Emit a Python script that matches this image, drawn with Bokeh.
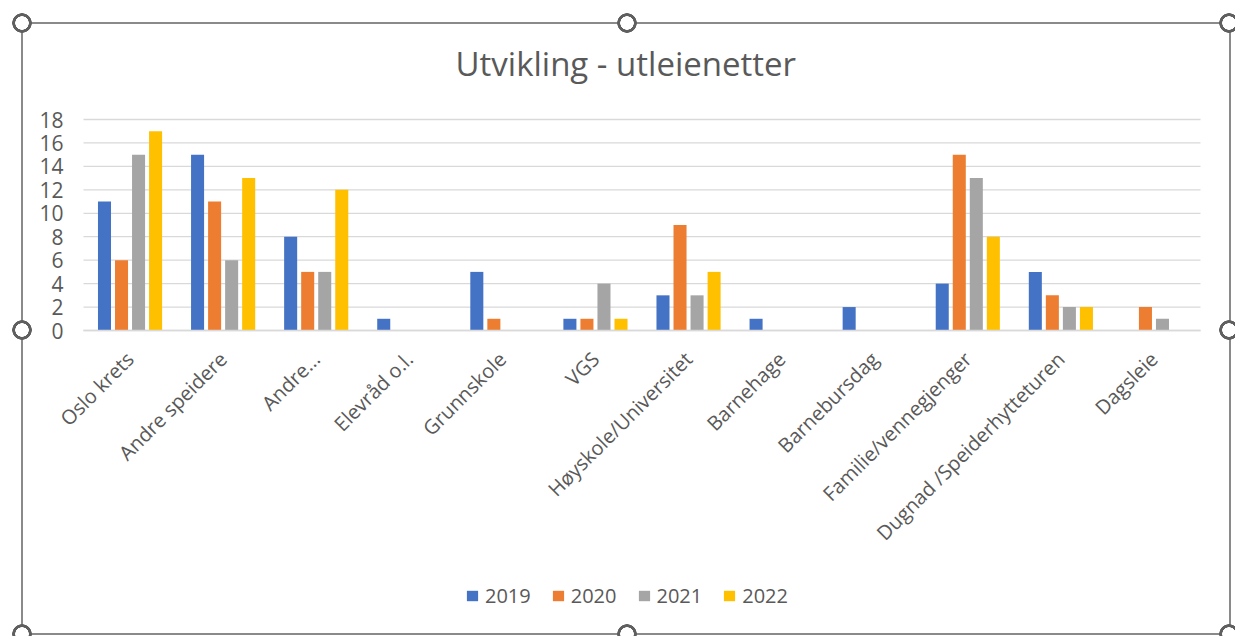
import math
from bokeh.plotting import figure
from bokeh.models import (ColumnDataSource, Range1d, FixedTicker,
                          Legend, LegendItem, InlineStyleSheet)
from bokeh.transform import dodge
from bokeh.embed import file_html
from bokeh.resources import INLINE

# ---------------- data ----------------
categories = ["Oslo krets", "Andre speidere", "Andre...", "Elevråd o.l.", "Grunnskole", "VGS",
              "Høyskole/Universitet", "Barnehage", "Barnebursdag", "Familie/vennegjenger",
              "Dugnad /Speiderhytteturen", "Dagsleie"]
years = ["2019", "2020", "2021", "2022"]
v2019 = [11, 15, 8, 1, 5, 1, 3, 1, 2, 4, 5, 0]
v2020 = [6, 11, 5, 0, 1, 1, 9, 0, 0, 15, 3, 2]
v2021 = [15, 6, 5, 0, 0, 4, 3, 0, 0, 13, 2, 1]
v2022 = [17, 13, 12, 0, 0, 1, 5, 0, 0, 8, 2, 0]
colors = ["#4472C4", "#ED7D31", "#A5A5A5", "#FFC000"]
title_text = "Utvikling - utleienetter"
y_ticks = [0, 2, 4, 6, 8, 10, 12, 14, 16, 18]

n = len(categories)
centers = [i + 0.5 for i in range(n)]
series = [v2019, v2020, v2021, v2022]
source = ColumnDataSource(dict(x=centers, cat=categories, **{y: s for y, s in zip(years, series)}))

FONT = "Open Sans"
TXT = "#595959"
GRID = "#D9D9D9"

# layout (pixels). The plot area of the chart is x 83..1200, y 119 (18) .. 330 (0);
# the drawing frame is extended so tick labels, category labels and legend are inside it.
W, H = 1235, 636
area_left, area_right = 83, 1200
frame_left, frame_right = 30, 1233
area_top, zero_px = 119, 330
frame_top, frame_bottom = 100, 612
ppu = (area_right - area_left) / n
x_start = -(area_left - frame_left) / ppu
x_end = n + (frame_right - area_right) / ppu
ppy = (zero_px - area_top) / y_ticks[-1]
y_top = y_ticks[-1] + (area_top - frame_top) / ppy
y_bottom = -(frame_bottom - zero_px) / ppy

p = figure(width=W, height=H, x_range=Range1d(x_start, x_end),
           y_range=Range1d(y_bottom, y_top), output_backend="svg", toolbar_location=None,
           min_border_left=frame_left, min_border_right=W - frame_right,
           min_border_top=frame_top, min_border_bottom=H - frame_bottom)

p.border_fill_color = None
p.background_fill_color = None
p.outline_line_color = None
p.xgrid.visible = False
p.ygrid.visible = False

# horizontal gridlines at the value ticks, across the plot area
p.segment(x0=0, x1=n, y0=y_ticks, y1=y_ticks, line_color=GRID, line_width=1.3)

slot = 0.183
bar_w = 0.14
offsets = [-1.5 * slot, -0.5 * slot, 0.5 * slot, 1.5 * slot]
items = []
for yr, col, off in zip(years, colors, offsets):
    r = p.vbar(x=dodge("x", off), top=yr, width=bar_w, source=source,
               fill_color=col, line_color=None)
    items.append(LegendItem(label=yr, renderers=[r]))

# title
p.title.text = title_text
p.title.text_font = FONT
p.title.text_font_size = "33px"
p.title.text_font_style = "normal"
p.title.text_color = TXT
p.title.align = "left"
p.title.offset = 455 - frame_left
p.title.standoff = 30

# value axis
p.yaxis.fixed_location = 0
p.yaxis.ticker = FixedTicker(ticks=y_ticks, minor_ticks=[])
p.yaxis.axis_line_color = None
p.yaxis.major_tick_line_color = None
p.yaxis.minor_tick_line_color = None
p.yaxis.major_tick_out = 0
p.yaxis.major_tick_in = 0
p.yaxis.major_label_standoff = 20
p.yaxis.major_label_text_font = FONT
p.yaxis.major_label_text_font_size = "21px"
p.yaxis.major_label_text_color = TXT

# category axis
p.xaxis.fixed_location = 0
p.xaxis.bounds = (0, n)
p.xaxis.ticker = FixedTicker(ticks=centers, minor_ticks=[])
p.xaxis.major_label_overrides = {c: name for c, name in zip(centers, categories)}
p.xaxis.axis_line_color = GRID
p.xaxis.axis_line_width = 1.3
p.xaxis.major_tick_line_color = None
p.xaxis.minor_tick_line_color = None
p.xaxis.major_tick_out = 0
p.xaxis.major_tick_in = 0
p.xaxis.major_label_orientation = math.pi / 4
p.xaxis.major_label_standoff = 25
p.xaxis.major_label_text_font = FONT
p.xaxis.major_label_text_font_size = "20px"
p.xaxis.major_label_text_color = TXT

legend = Legend(items=items, location=(465 - frame_left, 3), orientation="horizontal",
                padding=0, margin=0, spacing=20, label_standoff=6,
                glyph_width=14, glyph_height=13, label_height=24,
                label_text_font=FONT, label_text_font_size="20px", label_text_color=TXT,
                border_line_color=None, background_fill_alpha=0)
p.add_layout(legend)

# chart-area frame with selection handles (as in the reference screenshot)
ring = "radial-gradient(circle at {x}px {y}px, #ffffff 0 6.5px, #5f5f5f 7px 9.5px, transparent 10px)"
handles = [(22, 23), (627, 23), (1229, 23), (22, 330), (1229, 330), (22, 634), (627, 634), (1229, 634)]
layers = [ring.format(x=x, y=y) for x, y in handles]
line = "linear-gradient(#8a8a8a, #8a8a8a) {x}px {y}px / {w}px {h}px no-repeat"
layers += [line.format(x=21, y=22, w=1210, h=2), line.format(x=21, y=633, w=1210, h=2),
           line.format(x=21, y=22, w=2, h=613), line.format(x=1229, y=22, w=2, h=613)]
css = ":host { background: " + ", ".join(layers) + ", #ffffff; }"
p.stylesheets = [InlineStyleSheet(css=css)]

open("out.html", "w").write(file_html(p, INLINE))
